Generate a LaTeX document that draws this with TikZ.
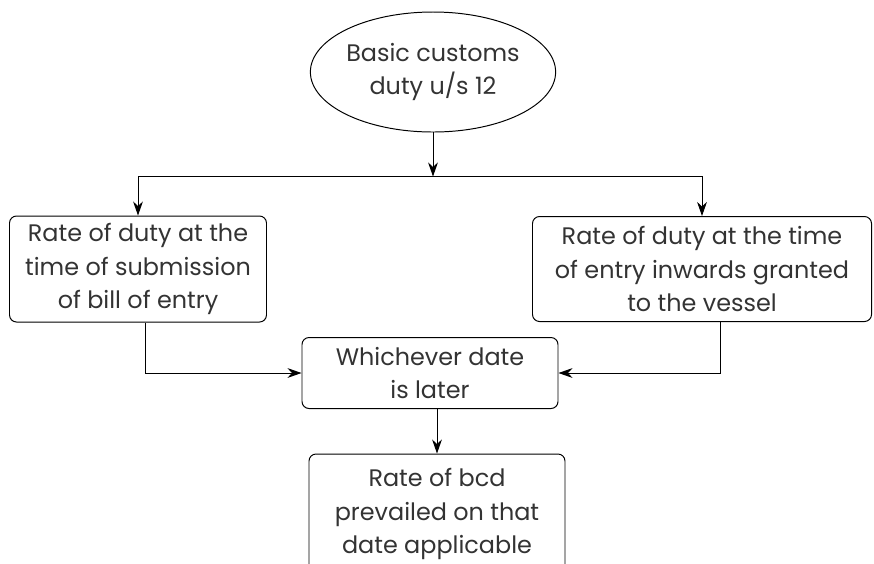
\documentclass[tikz,border=0pt]{standalone}
\usepackage{fontspec}
\setmainfont{Poppins}
\usetikzlibrary{arrows.meta, shapes.geometric, positioning, calc}
\definecolor{inkgrey}{HTML}{333333}

\begin{document}
\begin{tikzpicture}[
    dutybox/.style={draw=black, line width=0.7pt, rounded corners=5pt, align=center, inner sep=0pt, text=inkgrey},
    dutyoval/.style={draw=black, line width=0.7pt, ellipse, align=center, inner sep=0pt, text=inkgrey},
    arr/.style={draw=black, line width=0.7pt, -{Stealth[length=10pt, width=7pt]}},
    font=\fontsize{17}{24}\selectfont
  ]
  \useasboundingbox (0,0) rectangle (21.85,-14.075);
  % Ellipse at the top
  \node[dutyoval, minimum width=5.575cm, minimum height=3cm] (bcd) at (10.825,-1.8) {Basic customs\\duty u/s 12};
  % the two rates
  \node[dutybox, minimum width=6.425cm, minimum height=2.65cm] (billrate) at (3.45,-6.725) {Rate of duty at the\\time of submission\\of bill of entry};
  \node[dutybox, minimum width=8.475cm, minimum height=2.625cm] (vesselrate) at (17.55,-6.725) {Rate of duty at the time\\of entry inwards granted\\to the vessel};
  \node[dutybox, minimum width=6.4cm, minimum height=1.775cm] (later) at (10.75,-9.325) {Whichever date\\is later};
  \node[dutybox, minimum width=6.4cm, minimum height=3cm] (applicable) at (10.925,-12.85) {Rate of bcd\\prevailed on that\\date applicable};
  % split line
  \coordinate (split) at ($(bcd.south)+(0,-1.1)$);
  \draw[arr] (bcd.south) -- (split);
  \draw[arr] (split) -| (billrate.north);
  \draw[arr] (split) -| (vesselrate.north);
  % joining the later date
  \draw[arr] ([xshift=0.175cm]billrate.south) |- (later.west);
  \draw[arr] ([xshift=0.45cm]vesselrate.south) |- (later.east);
  \draw[arr] (applicable.north |- later.south) -- (applicable.north);
\end{tikzpicture}
\end{document}
